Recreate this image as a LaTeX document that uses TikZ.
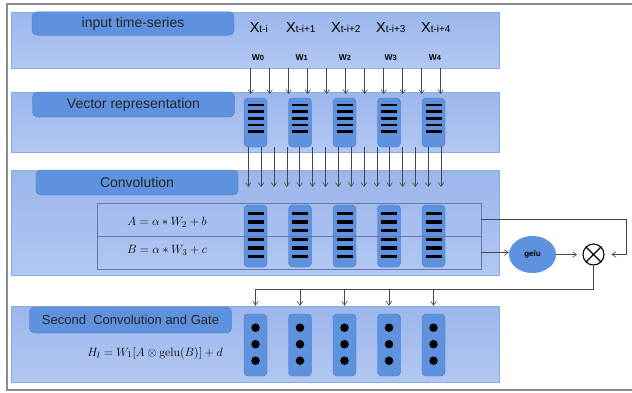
\documentclass[tikz,border=0pt]{standalone}
\usepackage[no-math]{fontspec}
\setmainfont{Liberation Sans}
\usetikzlibrary{arrows.meta,shapes.geometric}
\definecolor{bandtop}{RGB}{155,182,236}
\definecolor{bandbot}{RGB}{178,199,242}
\definecolor{bandline}{RGB}{140,170,226}
\definecolor{boxblue}{RGB}{94,145,222}
\definecolor{boxline}{RGB}{74,118,188}
\definecolor{rowline}{RGB}{96,122,172}
\definecolor{wirecol}{RGB}{70,70,70}
\definecolor{framecol}{RGB}{140,140,140}

\begin{document}
\begin{tikzpicture}[x=1pt, y=-1pt, >={Straight Barb[length=4pt,width=5.5pt]},
    band/.style={draw=bandline, top color=bandtop, bottom color=bandbot, minimum width=488pt, inner sep=0pt},
    title/.style={draw=boxline, fill=boxblue, rounded corners=5pt, minimum width=202pt, inner sep=0pt, text=black!85, font=\fontsize{14}{14}\selectfont},
    cell/.style={draw=boxline, fill=boxblue, rounded corners=4pt, minimum width=23pt, inner sep=0pt},
    bar/.style={fill=black, minimum width=16pt, minimum height=#1, inner sep=0pt},
    dot/.style={circle, fill=black, minimum size=8.5pt, inner sep=0pt},
    row/.style={draw=rowline, minimum width=384pt, minimum height=33pt, inner sep=0pt},
    wire/.style={draw=wirecol, line width=0.6pt}]
    \useasboundingbox (0,0) rectangle (632,392);
    % outer frame
    \draw[framecol, line width=1.2pt] (640,4) -- (7,4) -- (7,390) -- (640,390);

    % bands and their titles
    \node[band, minimum height=56pt] (band1) at (255.5,40) {};
    \node[band, minimum height=60pt] (band2) at (255.5,122) {};
    \node[band, minimum height=105pt] (band3) at (255,222.5) {};
    \node[band, minimum height=76pt] (band4) at (255,344) {};
    \node[title, minimum height=23.5pt] (lab1) at (133,23.5) {input time-series};
    \node[title, minimum height=25pt] (lab2) at (133.5,104.5) {Vector representation};
    \node[title, minimum height=25pt] (lab3) at (137,182.5) {Convolution};
    \node[title, minimum height=26pt, font=\fontsize{13}{13}\selectfont] (lab4) at (130.5,320) {Second\ \ Convolution and Gate};

    % inputs and weights
    \foreach \x/\s [count=\i] in {258.8/t-i, 300.8/t-i+1, 345.8/t-i+2, 390.8/t-i+3, 435.8/t-i+4}
        \node[anchor=base, inner sep=0pt] (x\i) at (\x,32) {\fontsize{14.5}{14}\selectfont X\fontsize{10}{10}\selectfont\s};
    \foreach \x/\s [count=\i] in {258/0, 301.7/1, 345/2, 390.7/3, 435/4}
        \node[anchor=base, inner sep=0pt] (w\i) at (\x,60) {\fontsize{8.5}{8}\selectfont\bfseries W\fontsize{7.5}{7}\selectfont\s};

    % columns of cells
    \foreach \x [count=\i] in {255.5,300,344.5,389,433.5}{
        \node[cell, minimum height=49pt] (v\i) at (\x,122.5) {};
        \foreach \j in {0,...,4}
            \node[bar=2.8pt] (vb\i\j) at (\x,{105+6.67*\j}) {};
        \node[cell, minimum height=62pt] (c\i) at (\x,236) {};
        \foreach \j in {0,...,5}
            \node[bar=3.4pt] (cb\i\j) at (\x,{213.3+8.67*\j}) {};
        \node[cell, minimum height=62pt] (s\i) at (\x,345) {};
        \foreach \j in {0,1,2}
            \node[dot] (sd\i\j) at (\x,{327.7+16.5*\j}) {};
    }

    % fan-in arrows
    \foreach \k in {0,...,10}{
        \coordinate (fa\k) at ({250.7+19*\k},68);
        \draw[wire, ->] (fa\k) -- ++(0,26);
    }
    \foreach \k in {0,...,15}{
        \coordinate (fb\k) at ({248.3+12.85*\k},147);
        \draw[wire, ->] (fb\k) -- ++(0,40);
    }

    % the two rows of the convolution
    \node[row] (rowA) at (289,219.5) {};
    \node[row] (rowB) at (289,252.5) {};
    \node[font=\fontsize{12.5}{12}\selectfont] (eqA) at (167,222) {$A=\alpha * W_2+b$};
    \node[font=\fontsize{12.5}{12}\selectfont] (eqB) at (167,250) {$B=\alpha * W_3+c$};
    \node[font=\fontsize{12.5}{12}\selectfont] (eqH) at (155,353) {$H_l=W_1[A\otimes \mathrm{gelu}(B)]+d$};

    % gate
    \node[ellipse, fill=boxblue, minimum width=47pt, minimum height=37pt, inner sep=0pt, font=\fontsize{8}{8}\selectfont\bfseries] (gelu) at (532.5,254.5) {gelu};
    \node[circle, draw, line width=1.1pt, minimum size=21pt, inner sep=0pt] (ot) at (593.5,254.5) {};
    \draw[line width=1.1pt] (ot.north east) -- (ot.south west) (ot.north west) -- (ot.south east);
    \draw[wire, ->] (rowB.east) -- (rowB.east -| gelu.west);
    \draw[wire, ->, shorten >=5.5pt] (gelu.east) -- (ot.west);
    \draw[wire, ->, shorten >=7pt] (rowA.east) -- ++(145,0) |- (ot.east);
    \coordinate (bus) at (0,289);
    \draw[wire] (ot.south) |- (s1 |- bus);
    \foreach \i in {1,...,5}
        \draw[wire, ->] (s\i |- bus) -- (s\i |- band4.north);
\end{tikzpicture}
\end{document}
